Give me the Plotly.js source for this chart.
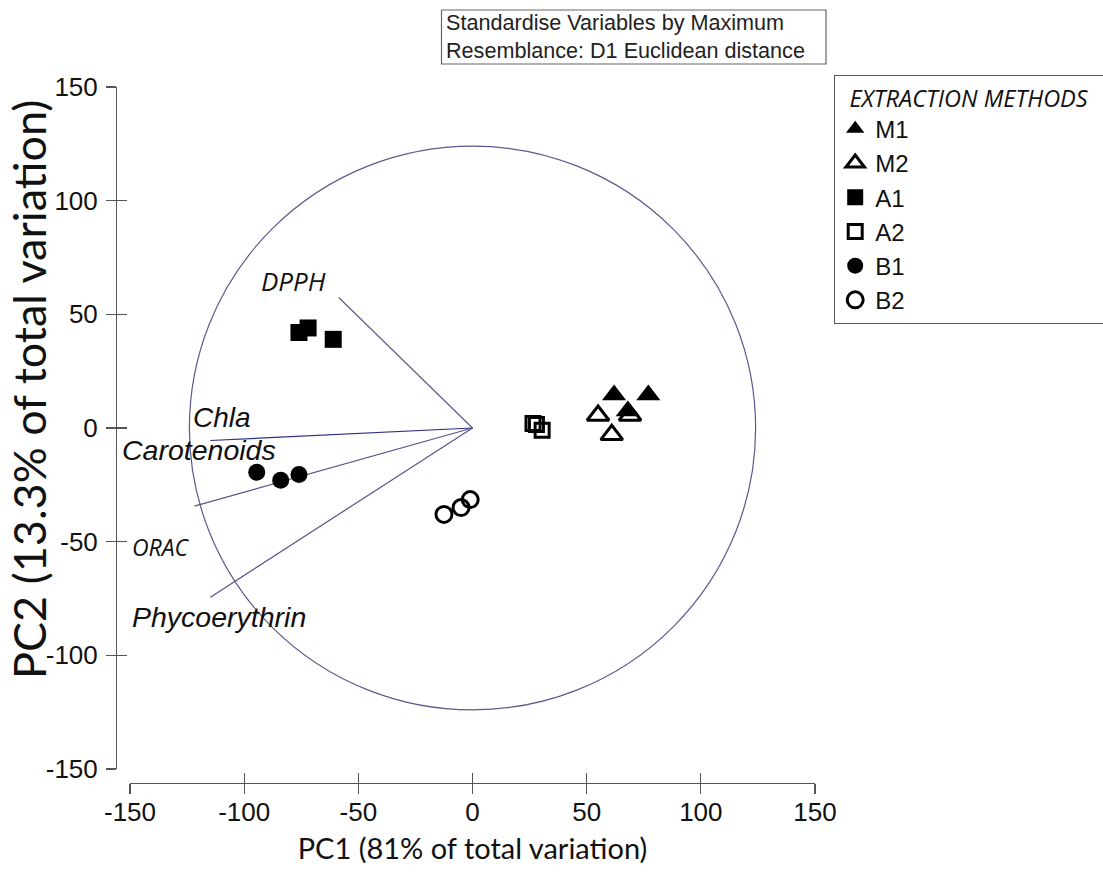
<!DOCTYPE html>
<html>
<head>
<meta charset="utf-8">
<script src="https://cdn.plot.ly/plotly-3.0.1.min.js"></script>
<style>
html,body{margin:0;padding:0;background:#ffffff;}
#chart{width:1103px;height:875px;}
</style>
</head>
<body>
<div id="chart"></div>
<script>
// ---------------- DATA ----------------
const axisTicks = [-150, -100, -50, 0, 50, 100, 150];

const groupNames = ['M1', 'M2', 'A1', 'A2', 'B1', 'B2'];

const m1PC1 = [62, 77, 68];
const m1PC2 = [14.5, 14.5, 7.5];
const m2PC1 = [55, 61, 69];
const m2PC2 = [5.5, -3, 5.5];
const a1PC1 = [-76, -72, -61];
const a1PC2 = [42, 44, 39];
const a2PC1 = [26.5, 28, 30.5];
const a2PC2 = [2, 1.5, -1];
const b1PC1 = [-94.5, -84, -76];
const b1PC2 = [-19.5, -23, -20.5];
const b2PC1 = [-12.5, -5, -1];
const b2PC2 = [-38, -35, -31.5];

const vectorNames = ['DPPH', 'Chla', 'Carotenoids', 'Phycoerythrin'];
const vectorPC1 = [-58.6, -114.8, -121.8, -114.8];
const vectorPC2 = [57.4, -5.5, -34.4, -74.4];

const vectorLabels = ['DPPH', 'Chla', 'Carotenoids', 'ORAC', 'Phycoerythrin'];

const circleRadius = 124;

const xTitle = 'PC1 (81% of total variation)';
const yTitle = 'PC2 (13.3% of total variation)';
const noteText = ['Standardise Variables by Maximum', 'Resemblance: D1 Euclidean distance'];
const legendTitle = 'EXTRACTION METHODS';

// ---------------- GEOMETRY / STYLE ----------------
const W = 1103, H = 875;
const ML = 116, MR = 288, MT = 87, MB = 92;
const PW = W - ML - MR, PH = H - MT - MB;
const px2x = p => (p - ML) / PW;
const px2y = p => (H - MB - p) / PH;

const groupData = {
  M1: [m1PC1, m1PC2], M2: [m2PC1, m2PC2], A1: [a1PC1, a1PC2],
  A2: [a2PC1, a2PC2], B1: [b1PC1, b1PC2], B2: [b2PC1, b2PC2]
};
const groupStyle = {
  M1: {symbol: 'triangle-up', size: 21, rank: 1},
  M2: {symbol: 'triangle-up-open', size: 19, rank: 2},
  A1: {symbol: 'square', size: 17, rank: 3},
  A2: {symbol: 'square-open', size: 14, rank: 4},
  B1: {symbol: 'circle', size: 17, rank: 5},
  B2: {symbol: 'circle-open', size: 16, rank: 6}
};
const drawOrder = ['A1', 'A2', 'B1', 'B2', 'M2', 'M1'];

const vectorColor = {DPPH: '#5c5c8e', Chla: '#2e2e86', Carotenoids: '#55558c', Phycoerythrin: '#55558c'};

const labelStyle = {
  DPPH: {x: -78.6, y: 64.5, family: 'Open Sans', size: 26},
  Chla: {x: -109.7, y: 4.6, family: 'Liberation Sans', size: 28},
  Carotenoids: {x: -119.6, y: -9.5, family: 'Liberation Sans', size: 28.5},
  ORAC: {x: -136.4, y: -52.2, family: 'Open Sans', size: 23},
  Phycoerythrin: {x: -111, y: -83, family: 'Liberation Sans', size: 28.5}
};

// ---------------- TRACES ----------------
const traces = [];

vectorNames.forEach((name, i) => {
  traces.push({
    type: 'scatter', mode: 'lines',
    x: [0, vectorPC1[i]], y: [0, vectorPC2[i]],
    line: {color: vectorColor[name], width: 1.2},
    showlegend: false, hoverinfo: 'skip'
  });
});

drawOrder.forEach(g => {
  const st = groupStyle[g];
  const open = st.symbol.indexOf('open') >= 0;
  traces.push({
    type: 'scatter', mode: 'markers', name: g,
    x: groupData[g][0], y: groupData[g][1],
    legendrank: st.rank,
    marker: {symbol: st.symbol, size: st.size, color: '#000000',
             line: {color: '#000000', width: open ? 3 : 0}}
  });
});

// non-drawing trace so the overlay axes (inner half of the crossing ticks) exist
traces.push({type: 'scatter', mode: 'none', x: [axisTicks[0], axisTicks[axisTicks.length - 1]],
             y: [axisTicks[0], axisTicks[axisTicks.length - 1]], xaxis: 'x2', yaxis: 'y2',
             showlegend: false, hoverinfo: 'skip'});

// ---------------- LAYOUT ----------------
const tickFont = {family: 'Liberation Sans, Arial, sans-serif', size: 26, color: '#111111'};
const axisCommon = {
  range: [-150, 150], tickmode: 'array', tickvals: axisTicks,
  ticktext: axisTicks.map(String),
  showgrid: false, zeroline: false, automargin: false,
  tickcolor: '#555555', tickwidth: 1.2, ticklen: 10
};

const annotations = vectorLabels.map(name => {
  const s = labelStyle[name];
  return {
    x: s.x, y: s.y, xref: 'x', yref: 'y', text: name, showarrow: false,
    xanchor: 'center', yanchor: 'middle',
    font: {family: s.family, size: s.size, style: 'italic', color: '#111111'}
  };
});
annotations.push({
  xref: 'paper', yref: 'paper', x: px2x(444), y: px2y(37), xanchor: 'left', yanchor: 'middle',
  align: 'left', showarrow: false, text: noteText.join('<br>'),
  font: {family: 'Liberation Sans, Arial, sans-serif', size: 21.6, color: '#222222'}
});
// y-axis title (placed as rotated text to match the original's offset position)
annotations.push({
  xref: 'paper', yref: 'paper', x: px2x(29), y: px2y(390), xanchor: 'center', yanchor: 'middle',
  textangle: -90, showarrow: false, text: yTitle,
  font: {family: 'Lato, sans-serif', size: 45, color: '#111111'}
});

const layout = {
  width: W, height: H,
  margin: {l: ML, r: MR, t: MT, b: MB, pad: 0, autoexpand: false},
  paper_bgcolor: '#ffffff', plot_bgcolor: 'rgba(0,0,0,0)',
  showlegend: true,
  xaxis: Object.assign({}, axisCommon, {
    domain: [px2x(130), 1], anchor: 'free', position: 0,
    showline: true, linecolor: '#555555', linewidth: 1.2,
    ticks: 'outside', tickfont: tickFont, ticklabelstandoff: -4,
    title: {text: xTitle, font: {family: 'Lato, sans-serif', size: 29, color: '#111111'}, standoff: 12}
  }),
  yaxis: Object.assign({}, axisCommon, {
    domain: [px2y(769), 1], anchor: 'free', position: 0,
    showline: true, linecolor: '#555555', linewidth: 1.2,
    ticks: 'outside', tickfont: tickFont, ticklabelstandoff: 3
  }),
  xaxis2: Object.assign({}, axisCommon, {
    overlaying: 'x', anchor: 'free', position: 0, showline: false,
    ticks: 'inside', showticklabels: false
  }),
  yaxis2: Object.assign({}, axisCommon, {
    overlaying: 'y', anchor: 'free', position: 0, showline: false,
    ticks: 'inside', showticklabels: false
  }),
  shapes: [
    {type: 'circle', xref: 'x', yref: 'y', x0: -circleRadius, x1: circleRadius,
     y0: -circleRadius, y1: circleRadius, line: {color: '#5a5a90', width: 1.2}, layer: 'below'},
    {type: 'rect', xref: 'paper', yref: 'paper', x0: px2x(441.5), x1: px2x(826),
     y0: px2y(64), y1: px2y(10), line: {color: '#666666', width: 1.2}}
  ],
  annotations: annotations,
  legend: {
    x: px2x(834), y: px2y(75), xanchor: 'left', yanchor: 'top',
    bgcolor: '#ffffff', bordercolor: '#555555', borderwidth: 1.2,
    font: {family: 'Liberation Sans, Arial, sans-serif', size: 24, color: '#111111'},
    title: {text: '\u00a0\u00a0' + legendTitle + '\u00a0\u00a0',
            font: {family: 'Open Sans, sans-serif', size: 23.5, style: 'italic', color: '#111111'}},
    tracegroupgap: 0, itemclick: false, itemdoubleclick: false
  }
};

Plotly.newPlot('chart', traces, layout, {displayModeBar: false, staticPlot: true});
</script>
</body>
</html>
